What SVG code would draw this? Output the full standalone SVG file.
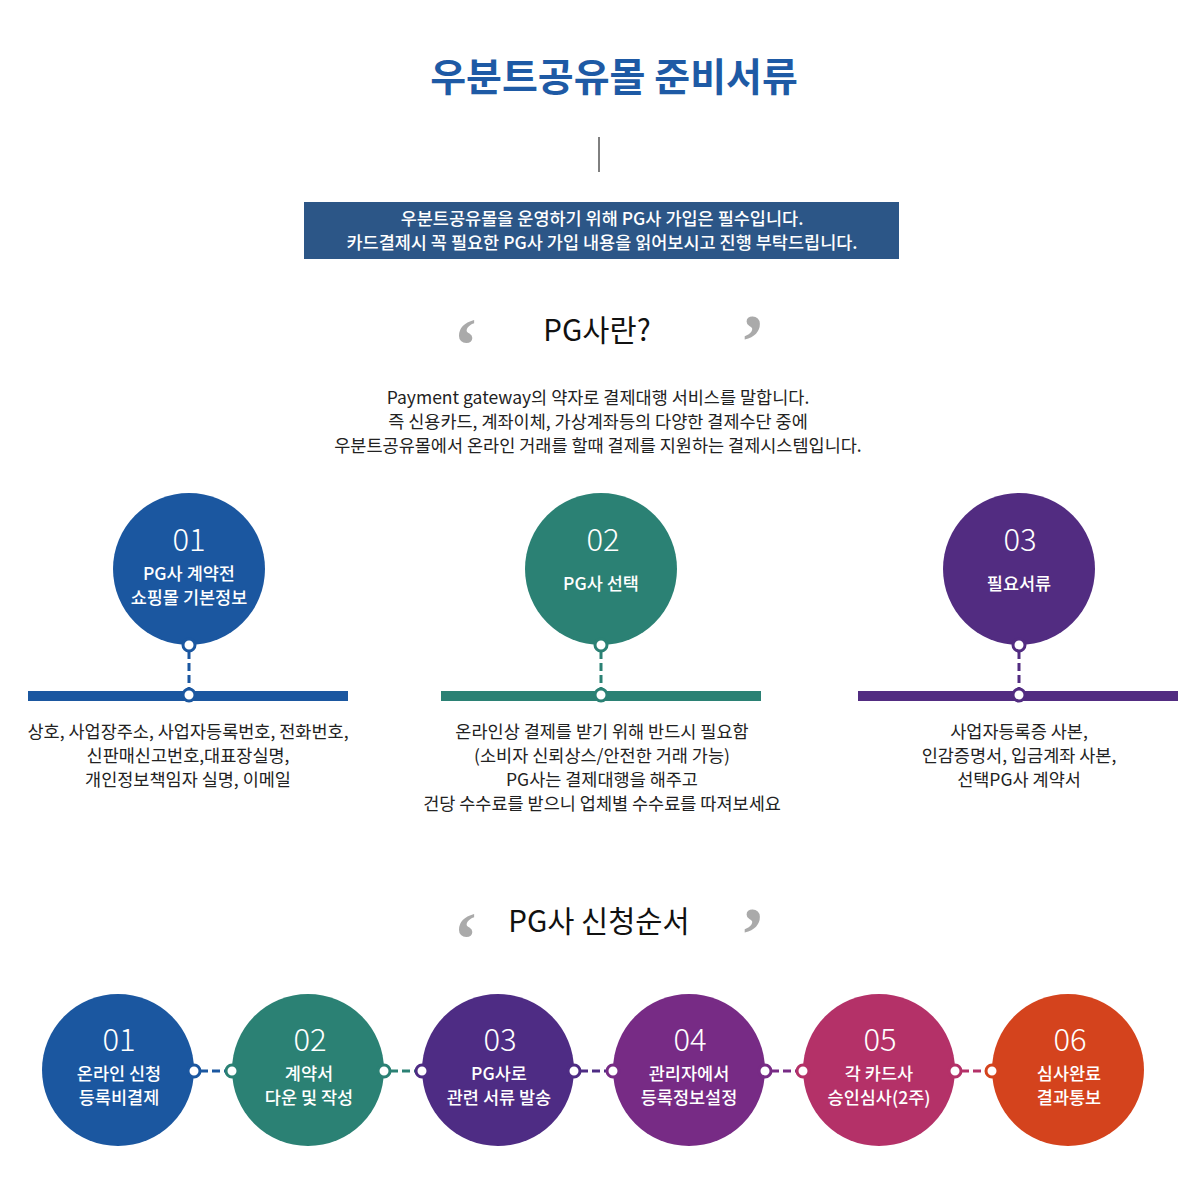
<svg xmlns="http://www.w3.org/2000/svg" width="1200" height="1190" viewBox="0 0 1200 1190">
<style>
text{font-family:"Noto Sans CJK KR","Noto Sans",sans-serif;text-anchor:middle}
.title{font-size:39px;font-weight:bold;fill:#1e5aa5}
.box{font-size:17.5px;font-weight:500;fill:#fff}
.h{font-size:29.5px;fill:#111}
.q{font-family:"Liberation Serif",serif;font-size:76px;font-weight:bold;fill:#aaaaaa;text-anchor:start}
.p{font-size:17.5px;fill:#222}
.num{font-size:31px;font-weight:200;fill:#fff}
.lab{font-size:17.5px;font-weight:500;fill:#fff}
.dot{fill:#fff;stroke-width:3}
.dash{stroke-width:3;stroke-dasharray:8 4;fill:none}
</style>
<rect width="1200" height="1190" fill="#fff"/>
<g id="header">
<text class="title" x="614" y="91">우분트공유몰 준비서류</text>
<line x1="599" y1="137" x2="599" y2="172" stroke="#000" stroke-width="1"/>
<rect x="304" y="202" width="595" height="57" fill="#2c5687"/>
<text class="box" x="602" y="225">우분트공유몰을 운영하기 위해 PG사 가입은 필수입니다.</text>
<text class="box" x="602" y="249">카드결제시 꼭 필요한 PG사 가입 내용을 읽어보시고 진행 부탁드립니다.</text>
</g>
<g id="pg-intro">
<text class="q" x="453" y="371">‘</text>
<text class="q" x="740" y="367">’</text>
<text class="h" x="597" y="341">PG사란?</text>
<text class="p" x="598" y="404">Payment gateway의 약자로 결제대행 서비스를 말합니다.</text>
<text class="p" x="598" y="428">즉 신용카드, 계좌이체, 가상계좌등의 다양한 결제수단 중에</text>
<text class="p" x="598" y="452">우분트공유몰에서 온라인 거래를 할때 결제를 지원하는 결제시스템입니다.</text>
</g>
<g id="connectors">
<line class="dash" x1="189" y1="651" x2="189" y2="689" stroke="#1b57a0"/>
<line class="dash" x1="601" y1="651" x2="601" y2="689" stroke="#2b8174"/>
<line class="dash" x1="1019" y1="651" x2="1019" y2="689" stroke="#522c81"/>
<line class="dash" x1="200" y1="1071" x2="226" y2="1071" stroke="#1b57a0"/>
<line class="dash" x1="390" y1="1071" x2="416" y2="1071" stroke="#2b8174"/>
<line class="dash" x1="580" y1="1071" x2="607" y2="1071" stroke="#4e2c84"/>
<line class="dash" x1="771" y1="1071" x2="797" y2="1071" stroke="#772b85"/>
<line class="dash" x1="961" y1="1071" x2="986" y2="1071" stroke="#b43168"/>
</g>
<g id="step1">
<circle cx="189" cy="569" r="76" fill="#1b57a0"/>
<text class="num" x="189" y="551">01</text>
<text class="lab" x="189" y="580">PG사 계약전</text>
<text class="lab" x="189" y="604">쇼핑몰 기본정보</text>
<rect x="28" y="691" width="320" height="10" fill="#1b57a0"/>
<circle class="dot" cx="189" cy="645" r="6" stroke="#1b57a0"/>
<circle class="dot" cx="189" cy="695" r="6" stroke="#1b57a0"/>
<text class="p" x="188" y="738">상호, 사업장주소, 사업자등록번호, 전화번호,</text>
<text class="p" x="188" y="762">신판매신고번호,대표장실명,</text>
<text class="p" x="188" y="786">개인정보책임자 실명, 이메일</text>
</g>
<g id="step2">
<circle cx="601" cy="569" r="76" fill="#2b8174"/>
<text class="num" x="603" y="551">02</text>
<text class="lab" x="601" y="590">PG사 선택</text>
<rect x="441" y="691" width="320" height="10" fill="#2b8174"/>
<circle class="dot" cx="601" cy="645" r="6" stroke="#2b8174"/>
<circle class="dot" cx="601" cy="695" r="6" stroke="#2b8174"/>
<text class="p" x="602" y="738">온라인상 결제를 받기 위해 반드시 필요함</text>
<text class="p" x="602" y="762">(소비자 신뢰상스/안전한 거래 가능)</text>
<text class="p" x="602" y="786">PG사는 결제대행을 해주고</text>
<text class="p" x="602" y="810">건당 수수료를 받으니 업체별 수수료를 따져보세요</text>
</g>
<g id="step3">
<circle cx="1019" cy="569" r="76" fill="#522c81"/>
<text class="num" x="1020" y="551">03</text>
<text class="lab" x="1019" y="590">필요서류</text>
<rect x="858" y="691" width="320" height="10" fill="#522c81"/>
<circle class="dot" cx="1019" cy="645" r="6" stroke="#522c81"/>
<circle class="dot" cx="1019" cy="695" r="6" stroke="#522c81"/>
<text class="p" x="1019" y="738">사업자등록증 사본,</text>
<text class="p" x="1019" y="762">인감증명서, 입금계좌 사본,</text>
<text class="p" x="1019" y="786">선택PG사 계약서</text>
</g>
<g id="apply-title">
<text class="q" x="453" y="965">‘</text>
<text class="q" x="740" y="960">’</text>
<text class="h" x="599" y="932">PG사 신청순서</text>
</g>
<g id="apply1">
<circle cx="118" cy="1070" r="76" fill="#1b57a0"/>
<text class="num" x="119" y="1051">01</text>
<text class="lab" x="119" y="1080">온라인 신청</text>
<text class="lab" x="119" y="1104">등록비결제</text>
<circle class="dot" cx="194" cy="1071" r="6" stroke="#1b57a0"/>
</g>
<g id="apply2">
<circle cx="308" cy="1070" r="76" fill="#2b8174"/>
<text class="num" x="310" y="1051">02</text>
<text class="lab" x="309" y="1080">계약서</text>
<text class="lab" x="309" y="1104">다운 및 작성</text>
<circle class="dot" cx="232" cy="1071" r="6" stroke="#2b8174"/>
<circle class="dot" cx="384" cy="1071" r="6" stroke="#2b8174"/>
</g>
<g id="apply3">
<circle cx="498" cy="1070" r="76" fill="#4e2c84"/>
<text class="num" x="500" y="1051">03</text>
<text class="lab" x="499" y="1080">PG사로</text>
<text class="lab" x="499" y="1104">관련 서류 발송</text>
<circle class="dot" cx="422" cy="1071" r="6" stroke="#4e2c84"/>
<circle class="dot" cx="574" cy="1071" r="6" stroke="#4e2c84"/>
</g>
<g id="apply4">
<circle cx="689" cy="1070" r="76" fill="#772b85"/>
<text class="num" x="690" y="1051">04</text>
<text class="lab" x="689" y="1080">관리자에서</text>
<text class="lab" x="689" y="1104">등록정보설정</text>
<circle class="dot" cx="613" cy="1071" r="6" stroke="#772b85"/>
<circle class="dot" cx="765" cy="1071" r="6" stroke="#772b85"/>
</g>
<g id="apply5">
<circle cx="879" cy="1070" r="76" fill="#b43168"/>
<text class="num" x="880" y="1051">05</text>
<text class="lab" x="879" y="1080">각 카드사</text>
<text class="lab" x="879" y="1104">승인심사(2주)</text>
<circle class="dot" cx="803" cy="1071" r="6" stroke="#b43168"/>
<circle class="dot" cx="955" cy="1071" r="6" stroke="#b43168"/>
</g>
<g id="apply6">
<circle cx="1068" cy="1070" r="76" fill="#d4431d"/>
<text class="num" x="1070" y="1051">06</text>
<text class="lab" x="1069" y="1080">심사완료</text>
<text class="lab" x="1069" y="1104">결과통보</text>
<circle class="dot" cx="992" cy="1071" r="6" stroke="#d4431d"/>
</g>
</svg>
